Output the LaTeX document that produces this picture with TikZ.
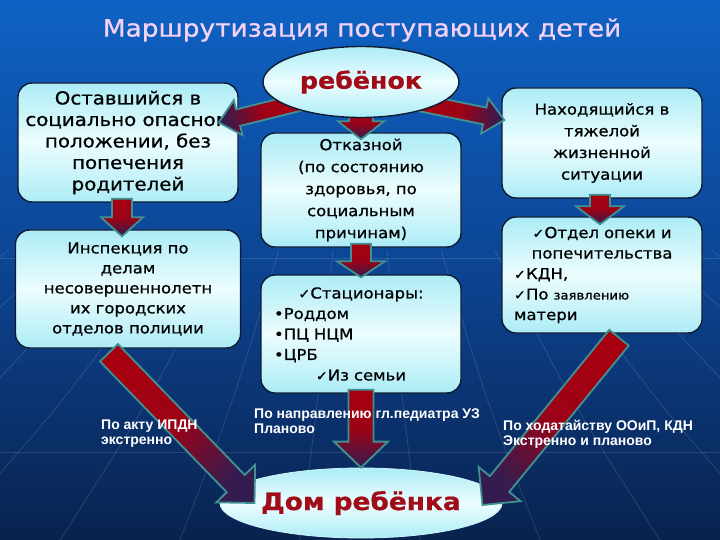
\documentclass[tikz,border=0pt]{standalone}
\usepackage{fontspec}
\setmainfont{DejaVu Sans}
\newfontfamily\comic[FakeStretch=1.1,FakeBold=0.8]{DejaVu Sans}
\newfontfamily\arialfont{Liberation Sans}
\usepackage{tikz}
\usetikzlibrary{arrows.meta,positioning,backgrounds,calc,shapes.geometric}
\usepackage{xcolor}

\definecolor{bgtop}{RGB}{14,98,196}
\definecolor{bgmid}{RGB}{12,68,146}
\definecolor{bgbot}{RGB}{9,34,78}
\definecolor{boxedge}{RGB}{14,28,50}
\definecolor{boxlight}{RGB}{236,253,254}
\definecolor{boxcyan}{RGB}{172,236,246}
\definecolor{arrowred}{RGB}{166,0,16}
\definecolor{arrowmid}{RGB}{156,2,22}
\definecolor{arrowdark}{RGB}{52,28,80}
\definecolor{arrowedge}{RGB}{64,146,146}
\definecolor{titlepink}{RGB}{244,210,244}
\definecolor{childred}{RGB}{160,12,24}

\pgfdeclarelayer{front}
\pgfsetlayers{background,main,front}

% block arrow: start, tip, shaft half width, head half width, head length
\newcommand{\blockarrow}[5]{%
  \coordinate (ba-s) at #1;
  \coordinate (ba-e) at #2;
  \coordinate (ba-b) at ($(ba-e)!#5pt!(ba-s)$);
  \pgfmathanglebetweenpoints{\pgfpointanchor{ba-s}{center}}{\pgfpointanchor{ba-e}{center}}%
  \let\baangle\pgfmathresult
  \pgfmathsetmacro{\bashade}{\baangle+90}%
  \draw[blockarr, shading angle=\bashade]
    ($(ba-s)!#3pt!90:(ba-e)$) -- ($(ba-b)!#3pt!90:(ba-e)$) -- ($(ba-b)!#4pt!90:(ba-e)$)
    -- (ba-e) -- ($(ba-b)!#4pt!-90:(ba-e)$) -- ($(ba-b)!#3pt!-90:(ba-e)$)
    -- ($(ba-s)!#3pt!-90:(ba-e)$) -- cycle;
}
\newcommand{\chk}{{\fontsize{13}{13}\selectfont ✓}}

\begin{document}
\begin{tikzpicture}[
    x=1pt, y=-1pt,
    box/.style={draw=boxedge, line width=1.4pt, rounded corners=14pt,
      top color=boxcyan, bottom color=boxcyan, middle color=boxlight,
      align=center, inner sep=2pt, text=black},
    oval/.style={ellipse, draw=boxedge, line width=1.4pt,
      top color=boxcyan, bottom color=boxcyan, middle color=boxlight, inner sep=0pt},
    blockarr/.style={draw=arrowedge, line width=1.8pt, line join=miter,
      top color=arrowred, bottom color=arrowdark, middle color=arrowmid},
    note/.style={font=\arialfont\bfseries\fontsize{14}{15}\selectfont, text=white,
      align=left, anchor=north west, inner sep=0pt},
    gridline/.style={white, opacity=0.13, line width=0.8pt}
  ]
  \useasboundingbox (0,0) rectangle (720,540);
  \fill[top color=bgtop, bottom color=bgbot, middle color=bgmid] (0,0) rectangle (720,540);
  \foreach \x in {-420,-300,...,1140}
    \draw[gridline] ({360+(\x-360)*0.45},250) .. controls ({360+(\x-360)*0.7},400) .. (\x,540);
  \draw[gridline] (0,258) -- (720,258);
  \draw[gridline] (0,452) -- (720,452);

  \node[font=\comic\fontsize{24}{28}\selectfont, text=titlepink] (title) at (362,30)
    {Маршрутизация поступающих детей};

  \begin{pgfonlayer}{front}
    \node[oval, minimum width=196pt, minimum height=71pt,
      font=\comic\bfseries\fontsize{23}{26}\selectfont, text=childred] (child) at (361,82)
      {\raisebox{-3pt}{ребёнок}};
    \node[note] (lipdn) at (101,420) {По акту ИПДН\\экстренно};
    \node[note] (lnapr) at (254,409) {По направлению гл.педиатра УЗ\\Планово};
    \node[note] (lhod) at (503,420) {По ходатайству ООиП, КДН\\Экстренно и планово};
  \end{pgfonlayer}

  \node[box, minimum width=220pt, minimum height=119pt,
    font=\comic\fontsize{18}{21.5}\selectfont] (lsoc) at (128,142.5)
    {Оставшийся в\\социально опасном\\положении, без\\попечения\\родителей};
  \node[box, minimum width=225pt, minimum height=118pt,
    font=\comic\fontsize{15}{20}\selectfont] (linsp) at (128,289)
    {Инспекция по\\делам\\несовершеннолетн\\их городских\\отделов полиции};
  \node[box, minimum width=200pt, minimum height=114pt,
    font=\comic\fontsize{15}{22}\selectfont] (cref) at (361,190)
    {Отказной\\(по состоянию\\здоровья, по\\социальным\\причинам)};
  \node[box, minimum width=200pt, minimum height=118pt, text width=174pt, align=left,
    font=\comic\fontsize{15}{20.5}\selectfont] (cstat) at (361,334)
    {\makebox[\linewidth]{\chk Стационары:}\\•Роддом\\•ПЦ НЦМ\\•ЦРБ\\
     \makebox[\linewidth]{\chk Из семьи}};
  \node[box, minimum width=200pt, minimum height=110pt,
    font=\comic\fontsize{15}{21.7}\selectfont] (rsit) at (602,143)
    {Находящийся в\\тяжелой\\жизненной\\ситуации};
  \node[box, minimum width=200pt, minimum height=116pt, text width=176pt, align=left,
    font=\comic\fontsize{15}{20.5}\selectfont] (ropek) at (602,275)
    {\makebox[\linewidth]{\chk Отдел опеки и}\\
     \makebox[\linewidth]{попечительства}\\\chk КДН,\\
     \chk По {\fontsize{12}{20.5}\selectfont заявлению}\\матери};

  \node[ellipse, inner sep=0pt, minimum width=276pt, minimum height=70pt,
    draw=boxcyan!60!white, line width=0.8pt,
    top color=boxcyan, bottom color=boxcyan, middle color=boxlight,
    font=\comic\bfseries\fontsize{24}{27}\selectfont, text=childred] (home) at (361,503)
    {Дом ребёнка};

  \blockarrow{([xshift=12pt,yshift=6pt]child.200)}{([xshift=-20pt,yshift=20pt]lsoc.east)}{8.5}{18}{20}
  \blockarrow{([xshift=-12pt,yshift=5pt]child.-20)}{([xshift=3pt,yshift=23pt]rsit.west)}{8.5}{18}{20}
  \blockarrow{([yshift=12pt]child.south)}{([yshift=-7pt]cref.north)}{12}{23}{18}
  \blockarrow{([xshift=-6pt,yshift=4pt]lsoc.south)}{([xshift=-6pt,yshift=-7pt]linsp.north)}{10}{21}{19}
  \blockarrow{([yshift=4pt]cref.south)}{([yshift=-3pt]cstat.north)}{10}{24}{16}
  \blockarrow{([xshift=-2pt,yshift=4pt]rsit.south)}{([xshift=-2pt,yshift=-8pt]ropek.north)}{10}{24}{18}
  \blockarrow{([xshift=-19pt,yshift=-4pt]linsp.south)}{([xshift=35pt]home.west)}{12.5}{27}{27}
  \blockarrow{([yshift=4pt]cstat.south)}{(home.north)}{12.5}{27}{26}
  \blockarrow{([xshift=17pt,yshift=-4pt]ropek.south)}{([xshift=-20pt,yshift=-2pt]home.east)}{12.5}{27}{27}
\end{tikzpicture}
\end{document}
